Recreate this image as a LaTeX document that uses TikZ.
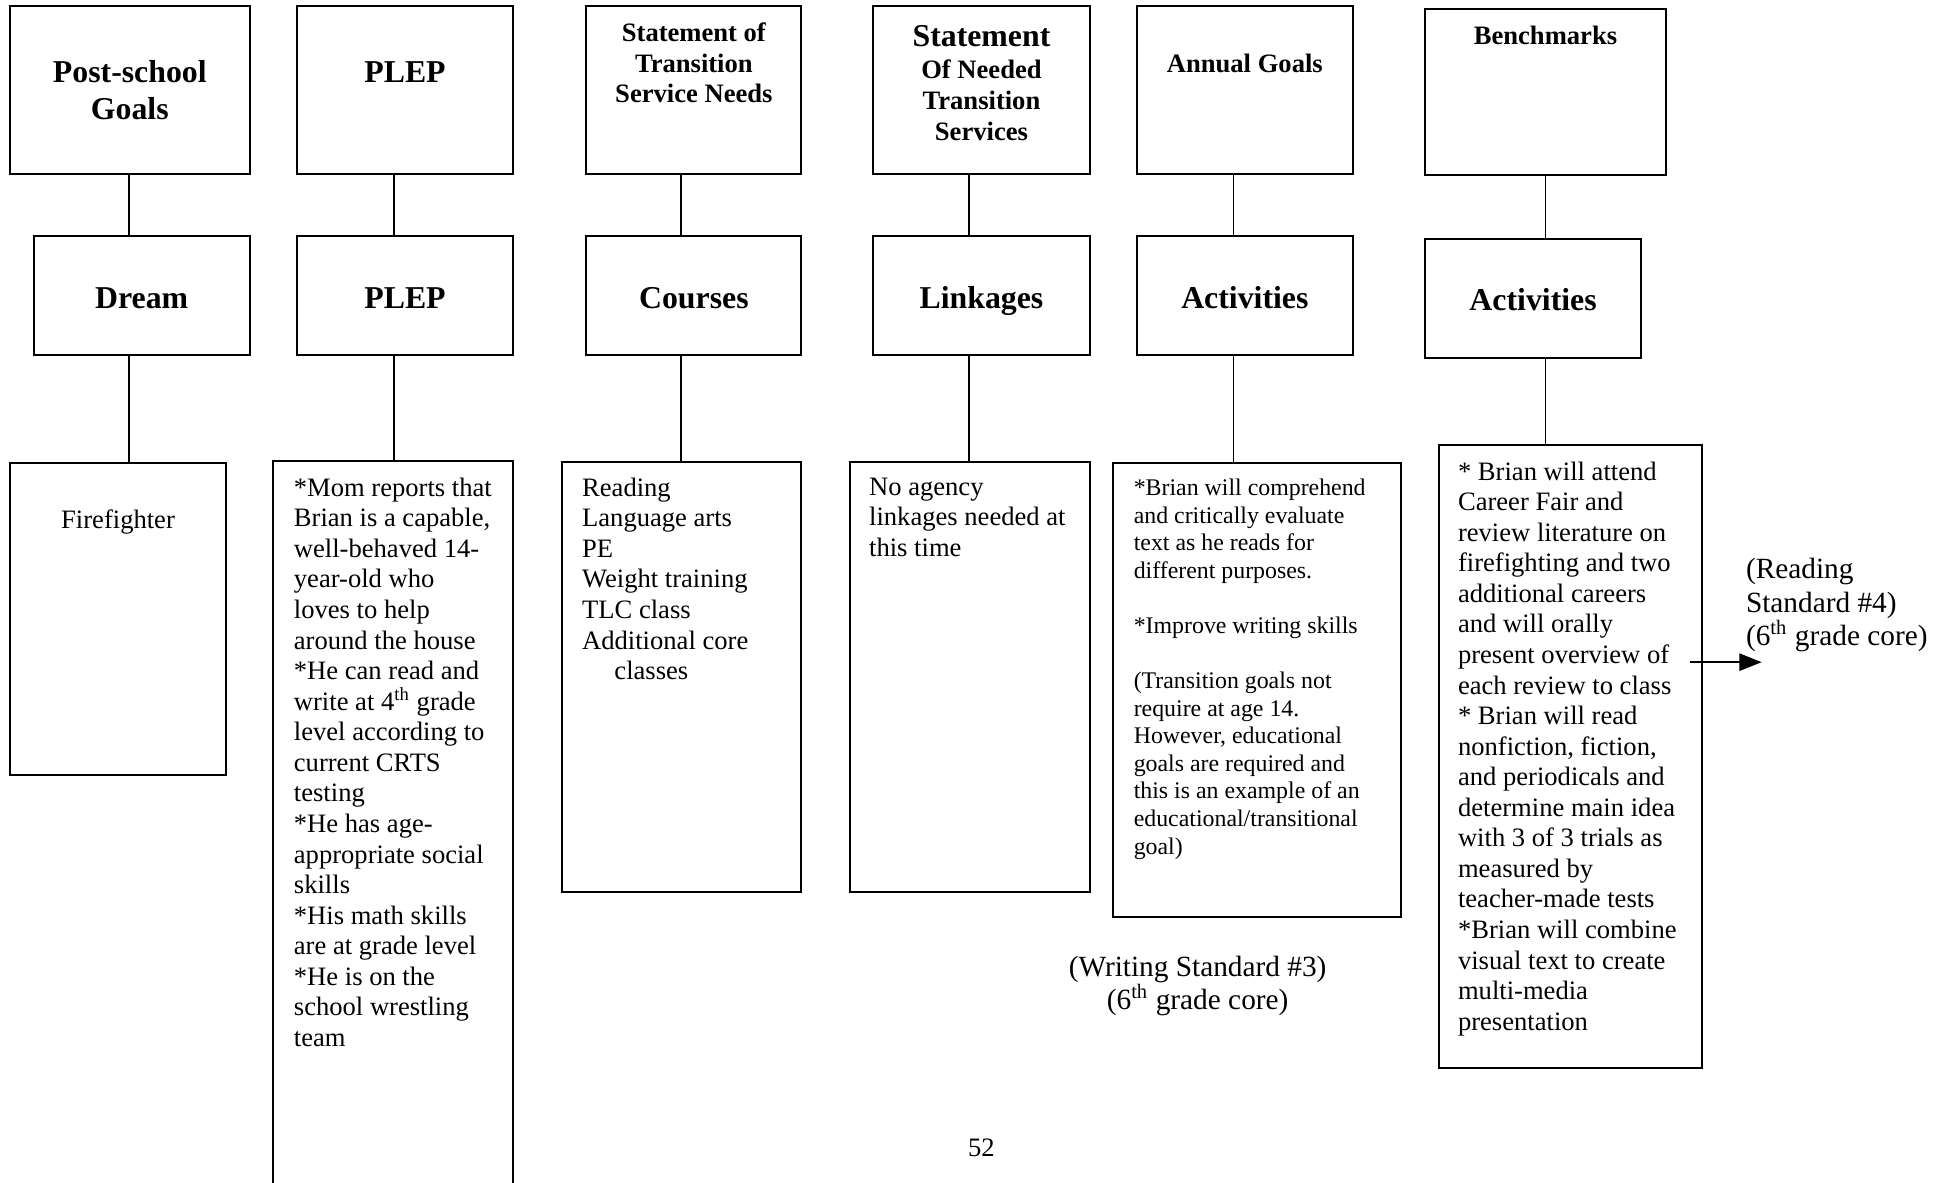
\documentclass[tikz,border=0pt]{standalone}
\usepackage{fontspec}
\setmainfont{Liberation Serif}
\usetikzlibrary{fit,arrows.meta}

\tikzset{
	box/.style = {draw, line width=0.8pt, inner sep=0pt},
	link/.style = {line width=0.6pt},
	bighead/.style = {font=\fontsize{12.8}{15}\selectfont\bfseries, align=center, inner sep=0pt},
	smallhead/.style = {font=\fontsize{10.7}{12.3}\selectfont\bfseries, align=center, inner sep=0pt},
	bodytext/.style = {font=\fontsize{10.7}{12.3}\selectfont, align=left, inner sep=0pt},
	goaltext/.style = {font=\fontsize{9.6}{11.1}\selectfont, align=left, inner sep=0pt},
	stdtext/.style = {font=\fontsize{11.8}{13.5}\selectfont, inner sep=0pt}
}

\begin{document}
\begin{tikzpicture}[x=0.5pt, y=-0.5pt]
	\useasboundingbox (0,0) rectangle (1568,952);
	% top row
	\node [box, fit={(8,5) (201,140)}] (goalA) {};
	\node [box, fit={(239,5) (413,140)}] (plepA) {};
	\node [box, fit={(472,5) (645,140)}] (needA) {};
	\node [box, fit={(703,5) (877,140)}] (servA) {};
	\node [box, fit={(915,5) (1089,140)}] (annualA) {};
	\node [box, fit={(1147,7) (1341,141)}] (benchA) {};
	\node [bighead, anchor=north] at ([shift={(0,44)}]goalA.north) {Post-school\\Goals};
	\node [bighead, anchor=north] at ([shift={(0,45)}]plepA.north) {PLEP};
	\node [smallhead, anchor=north] at ([shift={(0,14)}]needA.north) {Statement of\\Transition\\Service Needs};
	\node [smallhead, anchor=north] at ([shift={(0,16)}]servA.north) {{\fontsize{12.8}{15}\selectfont Statement}\\[0.7pt]Of Needed\\Transition\\Services};
	\node [smallhead, anchor=north] at ([shift={(0,39)}]annualA.north) {Annual Goals};
	\node [smallhead, anchor=north] at ([shift={(0,14)}]benchA.north) {Benchmarks};
	% middle row
	\node [box, fit={(27,190) (201,286)}] (dreamB) {};
	\node [box, fit={(239,190) (413,286)}] (plepB) {};
	\node [box, fit={(472,190) (645,286)}] (courseB) {};
	\node [box, fit={(703,190) (877,286)}] (linkB) {};
	\node [box, fit={(915,190) (1089,286)}] (goalB) {};
	\node [box, fit={(1147,192) (1321,288)}] (benchB) {};
	\foreach \bb/\txt in {dreamB/Dream, plepB/PLEP, courseB/Courses, linkB/Linkages, goalB/Activities, benchB/Activities}
		\node [bighead, anchor=base] at ([shift={(0,10)}]\bb.center) {\txt};
	% bottom row
	\node [box, fit={(8,373) (182,624)}] (dreamC) {};
	\node [box, fit={(220,371) (413,962)}] (plepC) {};
	\node [box, fit={(452,372) (645,718)}] (courseC) {};
	\node [box, fit={(684,372) (877,718)}] (linkC) {};
	\node [box, fit={(896,373) (1128,738)}] (goalC) {};
	\node [box, fit={(1158,358) (1370,860)}] (benchC) {};
	\foreach \ba/\bb/\bc/\cx in {goalA/dreamB/dreamC/104, plepA/plepB/plepC/317,
		needA/courseB/courseC/548, servA/linkB/linkC/780,
		annualA/goalB/goalC/993, benchA/benchB/benchC/1244} {
		\draw [link] (\ba.south -| \cx,0) -- (\bb.north -| \cx,0);
		\draw [link] (\bb.south -| \cx,0) -- (\bc.north -| \cx,0);
	}
	\node [bodytext, anchor=north] at ([shift={(0,38)}]dreamC.north) {Firefighter};
	\node [bodytext, anchor=north west] at ([shift={(17,14)}]plepC.north west) {*Mom reports that\\Brian is a capable,\\well-behaved 14-\\year-old who\\loves to help\\around the house\\{}*He can read and\\write at 4\smash{\textsuperscript{th}} grade\\level according to\\current CRTS\\testing\\{}*He has age-\\appropriate social\\skills\\{}*His math skills\\are at grade level\\{}*He is on the\\school wrestling\\team};
	\node [bodytext, anchor=north west] at ([shift={(17,13)}]courseC.north west) {Reading\\Language arts\\PE\\Weight training\\TLC class\\Additional core\\\hspace*{13pt}classes};
	\node [bodytext, anchor=north west] at ([shift={(16,13)}]linkC.north west) {No agency\\linkages needed at\\this time};
	\node [goaltext, anchor=north west] at ([shift={(17,13)}]goalC.north west) {*Brian will comprehend\\and critically evaluate\\text as he reads for\\different purposes.\\[11.1pt]{}*Improve writing skills\\[11.1pt](Transition goals not\\require at age 14.\\However, educational\\goals are required and\\this is an example of an\\educational/transitional\\goal)};
	\node [bodytext, anchor=north west] at ([shift={(16,14)}]benchC.north west) {* Brian will attend\\Career Fair and\\review literature on\\firefighting and two\\additional careers\\and will orally\\present overview of\\each review to class\\{}* Brian will read\\nonfiction, fiction,\\and periodicals and\\determine main idea\\with 3 of 3 trials as\\measured by\\teacher-made tests\\{}*Brian will combine\\visual text to create\\multi-media\\presentation};
	% standards and page number
	\node [stdtext, align=center, anchor=north] (writestd) at (964,769) {(Writing Standard \#3)\\(6\smash{\textsuperscript{th}} grade core)};
	\node [stdtext, align=left, anchor=north west] (readstd) at (1405,449) {(Reading\\Standard \#4)\\(6\smash{\textsuperscript{th}} grade core)};
	\node [bodytext] (pagenum) at (790,924) {52};
	\coordinate (arrowtail) at (1360,533);
	\coordinate (arrowtip) at (1418,533);
	\draw [line width=0.75pt, -{Triangle[length=9pt, width=7pt]}] (arrowtail) -- (arrowtip);
\end{tikzpicture}
\end{document}
